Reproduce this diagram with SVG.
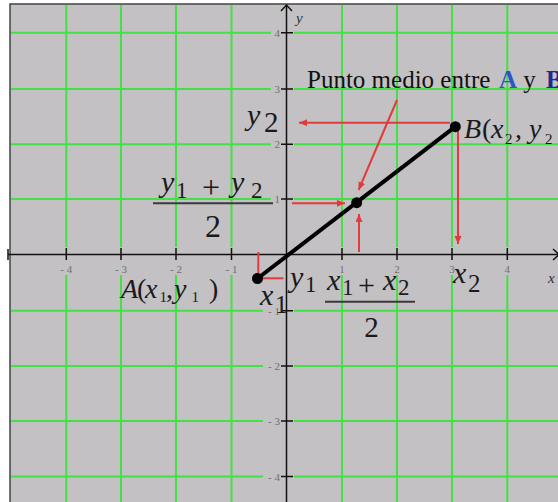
<svg xmlns="http://www.w3.org/2000/svg" width="558" height="502" viewBox="0 0 558 502">
<defs>
<style>
.grid{stroke:#45e045;stroke-width:2;fill:none}
.axis{stroke:#111;stroke-width:1.5;fill:none}
.tick{stroke:#111;stroke-width:1.5}
.tl{font-family:"Liberation Serif",serif;font-size:11px;fill:#707070}
.tlx{text-anchor:middle}
.tly{text-anchor:end}
.red{stroke:#e23b3b;stroke-width:2;fill:none}
.seg{stroke:#000;stroke-width:4;stroke-linecap:round}
.dot{fill:#000}
.mi{font-family:"Liberation Serif",serif;font-style:italic;font-size:30px;fill:#1a1a1a}
.mn{font-family:"Liberation Serif",serif;font-style:normal;fill:#1a1a1a}
.pt{font-family:"Liberation Serif",serif;font-size:28px;fill:#1a1a1a}
.bar{stroke:#3a3a3a;stroke-width:2}
.title{font-family:"Liberation Serif",serif;font-size:25px;fill:#111}
.ax{font-family:"Liberation Serif",serif;font-style:italic;font-size:15px;fill:#333}
</style>
<marker id="ah" markerUnits="userSpaceOnUse" markerWidth="9" markerHeight="8" refX="8" refY="3.5" orient="auto">
<path d="M0,0 L8,3.5 L0,7 z" fill="#e23b3b"/>
</marker>
</defs>
<rect x="0" y="0" width="558" height="502" fill="#fff"/>
<rect x="10" y="4" width="548" height="498" fill="#c3c1c4"/>
<path d="M10,502 V4 H558" stroke="#444" stroke-width="1.5" fill="none"/>

<g id="grid">
<path class="grid" d="M66.3,5V247M121,5V247M176,5V247M231.5,5V247M342,5V247M397,5V247M452,5V247M507.3,5V247"/>
<path class="grid" d="M66.3,275V502M121,275V502M176,275V502M231.5,275V502M342,275V502M397,275V502M452,275V502M507.3,275V502"/>
<path class="grid" d="M11,32.7H271M11,89H271M11,144.3H271M11,199H271M11,310.7H263M11,366H263M11,421H263M11,476.5H263"/>
<path class="grid" d="M294,32.7H558M294,89H558M294,144.3H558M294,199H558M294,310.7H558M294,366H558M294,421H558M294,476.5H558"/>
</g>

<g id="axes">
<path class="axis" d="M8,254.5H558"/>
<path class="axis" d="M8,249V260"/>
<path class="axis" d="M286.5,5V502"/>
<path class="axis" d="M281,11 L286.5,5 L292,11"/>
<path class="axis" d="M553,249 L559,254.5 L553,260"/>
<path class="tick" d="M66.3,248V260M121,248V260M176,248V260M231.5,248V260M342,248V260M397,248V260M452,248V260M507.3,248V260"/>
<path class="tick" d="M281,32.7H293M281,89H293M281,144.3H293M281,199H293M281,310.7H293M281,366H293M281,421H293M281,476.5H293"/>
<text class="tl tlx" x="66.3" y="273">- 4</text>
<text class="tl tlx" x="121" y="273">- 3</text>
<text class="tl tlx" x="176" y="273">- 2</text>
<text class="tl tlx" x="231.5" y="273">- 1</text>
<text class="tl tlx" x="342" y="273">1</text>
<text class="tl tlx" x="397" y="273">2</text>
<text class="tl tlx" x="452" y="273">3</text>
<text class="tl tlx" x="507.3" y="273">4</text>
<text class="tl tly" x="280" y="36.5">4</text>
<text class="tl tly" x="280" y="92.8">3</text>
<text class="tl tly" x="280" y="148">2</text>
<text class="tl tly" x="280" y="203">1</text>
<text class="tl tly" x="280" y="314.5">- 1</text>
<text class="tl tly" x="280" y="370">- 2</text>
<text class="tl tly" x="280" y="425">- 3</text>
<text class="tl tly" x="280" y="480.5">- 4</text>
<text class="ax" x="296" y="23">y</text>
<text class="ax" x="548" y="283">x</text>
</g>

<g id="connectors">
<line class="seg" x1="257.5" y1="278.5" x2="455.3" y2="126.7"/>
<line class="red" x1="450" y1="122.7" x2="299" y2="122.7" marker-end="url(#ah)"/>
<line class="red" x1="458" y1="131" x2="458" y2="244" marker-end="url(#ah)"/>
<line class="red" x1="397" y1="100" x2="358.6" y2="190" marker-end="url(#ah)"/>
<line class="red" x1="292" y1="203.3" x2="345" y2="203.3" marker-end="url(#ah)"/>
<line class="red" x1="359" y1="252" x2="359" y2="214" marker-end="url(#ah)"/>
<line class="red" x1="258.3" y1="252" x2="258.3" y2="278"/>
<line class="red" x1="262" y1="278.3" x2="283.5" y2="278.3"/>
</g>

<g id="pointA">
<circle class="dot" cx="257.5" cy="278.5" r="5.5"/>
<text class="pt"><tspan x="121" y="298" font-style="italic">A</tspan><tspan x="137" y="298">(</tspan><tspan x="145" y="298" font-style="italic">x</tspan><tspan x="159.5" y="302" font-size="15">1</tspan><tspan x="166" y="298">,</tspan><tspan x="174" y="298" font-style="italic">y</tspan><tspan x="191.5" y="302" font-size="15">1</tspan><tspan x="209" y="298">)</tspan></text>
</g>

<g id="pointB">
<circle class="dot" cx="455.3" cy="126.7" r="5.5"/>
<text class="pt"><tspan x="464" y="137.7" font-style="italic">B</tspan><tspan x="482" y="137.7">(</tspan><tspan x="491" y="137.7" font-style="italic">x</tspan><tspan x="505" y="144" font-size="15">2</tspan><tspan x="515" y="137.7">,</tspan><tspan x="529" y="137.7" font-style="italic">y</tspan><tspan x="545" y="144" font-size="15">2</tspan></text>
</g>

<g id="midpoint">
<circle class="dot" cx="356.7" cy="202.7" r="5.5"/>
</g>

<g id="title">
<text class="title"><tspan x="307" y="87.5">Punto medio entre </tspan><tspan x="499" y="87.5" font-weight="bold" fill="#2d55c8">A</tspan><tspan x="517" y="87.5"> y </tspan><tspan x="546" y="87.5" font-weight="bold" fill="#1e2a8c">B</tspan></text>
</g>

<g id="label-y2">
<text><tspan class="mi" x="247" y="124.7">y</tspan><tspan class="mn" x="264" y="131.7" style="font-size:29px">2</tspan></text>
</g>

<g id="label-ymid">
<text><tspan class="mi" x="161" y="192">y</tspan><tspan class="mn" x="176" y="198.3" style="font-size:23px">1</tspan><tspan class="mn" x="202" y="198" style="font-size:32px">+</tspan><tspan class="mi" x="231" y="192">y</tspan><tspan class="mn" x="251" y="198.3" style="font-size:23px">2</tspan></text>
<line class="bar" x1="153" y1="203.3" x2="273" y2="203.3"/>
<text class="mn" x="213" y="236.7" style="font-size:32px" text-anchor="middle">2</text>
</g>

<g id="label-x1">
<text><tspan class="mi" x="260" y="305">x</tspan><tspan class="mn" x="275" y="313" style="font-size:25px">1</tspan></text>
</g>

<g id="label-y1">
<text><tspan class="mi" x="290" y="286.5">y</tspan><tspan class="mn" x="305" y="292" style="font-size:23px">1</tspan></text>
</g>

<g id="label-xmid">
<text><tspan class="mi" x="327" y="290">x</tspan><tspan class="mn" x="342" y="295" style="font-size:23px">1</tspan><tspan class="mn" x="358" y="295" style="font-size:30px">+</tspan><tspan class="mi" x="383" y="290">x</tspan><tspan class="mn" x="398" y="295" style="font-size:23px">2</tspan></text>
<line class="bar" x1="325" y1="301.7" x2="415" y2="301.7"/>
<text class="mn" x="371.5" y="336.7" style="font-size:29px" text-anchor="middle">2</text>
</g>

<g id="label-x2">
<text><tspan class="mi" x="453" y="283.3">x</tspan><tspan class="mn" x="468" y="291.7" style="font-size:25px">2</tspan></text>
</g>
</svg>
